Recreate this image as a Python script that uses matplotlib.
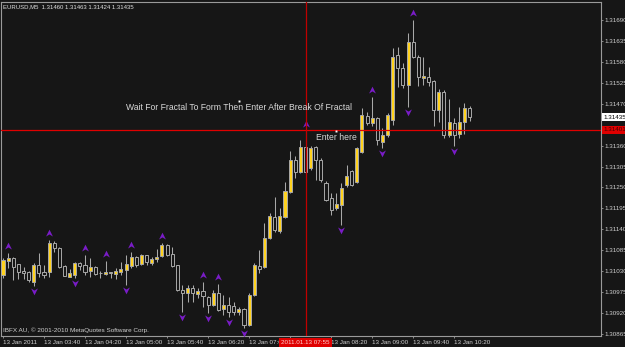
import numpy as np
import matplotlib
matplotlib.use("Agg")
import matplotlib.pyplot as plt
from matplotlib.path import Path
from matplotlib.transforms import offset_copy, blended_transform_factory

# ── Data: EURUSD M5, 13 Jan 2011, one candle per 5 minutes from 03:00 ─────────

opens = [1.31020, 1.31057, 1.31065, 1.31049, 1.31031, 1.31028, 1.31002, 1.31046, 1.31028, 1.31028,
         1.31104, 1.31091, 1.31044, 1.31015, 1.31020, 1.31052, 1.31046, 1.31031, 1.31041, 1.31025,
         1.31023, 1.31028, 1.31023, 1.31028, 1.31033, 1.31044, 1.31068, 1.31049, 1.31073, 1.31052,
         1.31062, 1.31070, 1.31099, 1.31075, 1.31046, 1.30981, 1.30973, 1.30986, 1.30970, 1.30978,
         1.30962, 1.30941, 1.30973, 1.30931, 1.30941, 1.30939, 1.30923, 1.30931, 1.30889, 1.30968,
         1.31044, 1.31041, 1.31117, 1.31172, 1.31136, 1.31172, 1.31238, 1.31322, 1.31291, 1.31356,
         1.31301, 1.31356, 1.31322, 1.31262, 1.31222, 1.31196, 1.31204, 1.31256, 1.31293, 1.31264,
         1.31343, 1.31438, 1.31419, 1.31433, 1.31369, 1.31388, 1.31427, 1.31598, 1.31564, 1.31519,
         1.31632, 1.31593, 1.31538, 1.31540, 1.31530, 1.31454, 1.31501, 1.31388, 1.31419, 1.31391,
         1.31422, 1.31460]
highs = [1.31065, 1.31078, 1.31068, 1.31049, 1.31041, 1.31031, 1.31052, 1.31078, 1.31046, 1.31112,
         1.31109, 1.31094, 1.31046, 1.31036, 1.31054, 1.31054, 1.31073, 1.31065, 1.31044, 1.31031,
         1.31057, 1.31028, 1.31038, 1.31054, 1.31073, 1.31081, 1.31070, 1.31075, 1.31073, 1.31068,
         1.31088, 1.31104, 1.31101, 1.31094, 1.31046, 1.30994, 1.30994, 1.30994, 1.30986, 1.31002,
         1.30965, 1.30981, 1.30997, 1.30968, 1.30962, 1.30949, 1.30936, 1.30934, 1.30973, 1.31052,
         1.31086, 1.31157, 1.31183, 1.31225, 1.31196, 1.31264, 1.31346, 1.31333, 1.31375, 1.31398,
         1.31359, 1.31359, 1.31327, 1.31267, 1.31235, 1.31235, 1.31262, 1.31309, 1.31296, 1.31356,
         1.31459, 1.31448, 1.31488, 1.31435, 1.31406, 1.31446, 1.31616, 1.31619, 1.31577, 1.31656,
         1.31690, 1.31598, 1.31593, 1.31567, 1.31532, 1.31509, 1.31506, 1.31482, 1.31433, 1.31461,
         1.31472, 1.31463]
lows = [1.31012, 1.31038, 1.31007, 1.31010, 1.31010, 1.31002, 1.30991, 1.31015, 1.31012, 1.31015,
        1.31080, 1.31038, 1.31017, 1.31015, 1.31012, 1.31033, 1.31020, 1.31015, 1.31020, 1.31012,
        1.31020, 1.31012, 1.31010, 1.31020, 1.30994, 1.31038, 1.31041, 1.31046, 1.31046, 1.31046,
        1.31054, 1.31068, 1.31070, 1.31041, 1.30978, 1.30923, 1.30949, 1.30949, 1.30960, 1.30936,
        1.30920, 1.30939, 1.30925, 1.30915, 1.30910, 1.30915, 1.30915, 1.30881, 1.30886, 1.30965,
        1.31025, 1.31038, 1.31115, 1.31133, 1.31130, 1.31170, 1.31235, 1.31275, 1.31288, 1.31288,
        1.31296, 1.31270, 1.31264, 1.31214, 1.31178, 1.31191, 1.31151, 1.31251, 1.31254, 1.31262,
        1.31341, 1.31414, 1.31412, 1.31362, 1.31354, 1.31383, 1.31414, 1.31514, 1.31511, 1.31461,
        1.31590, 1.31517, 1.31519, 1.31517, 1.31412, 1.31422, 1.31380, 1.31383, 1.31359, 1.31380,
        1.31391, 1.31424]
closes = [1.31059, 1.31065, 1.31041, 1.31028, 1.31025, 1.31007, 1.31046, 1.31025, 1.31020, 1.31104,
          1.31091, 1.31041, 1.31017, 1.31025, 1.31052, 1.31044, 1.31028, 1.31041, 1.31023, 1.31024,
          1.31028, 1.31025, 1.31031, 1.31036, 1.31049, 1.31068, 1.31046, 1.31073, 1.31054, 1.31062,
          1.31068, 1.31099, 1.31073, 1.31044, 1.30981, 1.30973, 1.30986, 1.30973, 1.30978, 1.30965,
          1.30941, 1.30973, 1.30928, 1.30941, 1.30923, 1.30923, 1.30931, 1.30889, 1.30968, 1.31046,
          1.31036, 1.31117, 1.31175, 1.31138, 1.31175, 1.31241, 1.31322, 1.31291, 1.31356, 1.31291,
          1.31354, 1.31322, 1.31270, 1.31217, 1.31191, 1.31207, 1.31249, 1.31280, 1.31256, 1.31354,
          1.31441, 1.31419, 1.31433, 1.31375, 1.31388, 1.31441, 1.31593, 1.31564, 1.31519, 1.31632,
          1.31593, 1.31540, 1.31543, 1.31527, 1.31454, 1.31501, 1.31388, 1.31422, 1.31388, 1.31422,
          1.31459, 1.31435]

# bar indices carrying a Bill Williams fractal arrow
up_fractals   = [1, 9, 16, 20, 25, 31, 39, 42, 59, 72, 80]
down_fractals = [6, 14, 24, 35, 40, 44, 47, 66, 74, 79, 88]

# 07:40 label sits under the vertical line's time tag, so it is left empty
time_ticks  = [0, 8, 16, 24, 32, 40, 48, 56, 64, 72, 80, 88]
time_labels = ["13 Jan 2011", "13 Jan 03:40", "13 Jan 04:20", "13 Jan 05:00",
               "13 Jan 05:40", "13 Jan 06:20", "13 Jan 07:00", "",
               "13 Jan 08:20", "13 Jan 09:00", "13 Jan 09:40", "13 Jan 10:20"]
price_ticks = [1.30865, 1.30920, 1.30975, 1.31030, 1.31085, 1.31140, 1.31195, 1.31250,
               1.31305, 1.31360, 1.31470, 1.31525, 1.31580, 1.31635, 1.31690]

line_bar   = 59          # vertical line object (07:55)
line_price = 1.31401     # horizontal line object
line_time  = "2011.01.13 07:55"
bid_price  = 1.31435

header    = "EURUSD,M5  1.31460 1.31463 1.31424 1.31435"
copyright = "IBFX AU, \u00a9 2001-2010 MetaQuotes Software Corp."
note_text, note_bar, note_price = "Wait For Fractal To Form Then Enter After Break Of Fractal", 46, 1.31476
entry_text, entry_bar, entry_price = "Enter here", 65, 1.31398

# ── Style ─────────────────────────────────────────────────────────────────────

BG      = "#161616"
GREY    = "#a8a8a8"
YELLOW  = "#ffd21f"
PURPLE  = "#7a1cc8"
RED     = "#e00000"
FONT    = "Liberation Sans"
W, H    = 625, 347

plt.rcParams["font.family"] = FONT

fig = plt.figure(figsize=(W / 100, H / 100), dpi=100, facecolor=BG)
ax = fig.add_axes([1 / W, 11 / H, 600 / W, 334 / H], facecolor=BG)

o = np.array(opens); c = np.array(closes)
hi = np.array(highs); lo = np.array(lows)
x = np.arange(len(o))
bull = c >= o

# candles
ax.vlines(x, lo, hi, color=GREY, linewidth=0.75, zorder=2)
body_lo = np.minimum(o, c)
body_h = np.abs(c - o)
ax.bar(x, body_h, bottom=body_lo, width=0.6,
       color=np.where(bull, YELLOW, BG), edgecolor=GREY, linewidth=0.7, zorder=3)

# fractal arrows (notched arrowheads)
up_path = Path([(0, 1), (0.9, -0.8), (0, -0.25), (-0.9, -0.8), (0, 1)],
               [Path.MOVETO, Path.LINETO, Path.LINETO, Path.LINETO, Path.CLOSEPOLY])
dn_path = Path([(0, -1), (0.9, 0.8), (0, 0.25), (-0.9, 0.8), (0, -1)],
               [Path.MOVETO, Path.LINETO, Path.LINETO, Path.LINETO, Path.CLOSEPOLY])
tr_up = offset_copy(ax.transData, fig=fig, y=5.0, units="points")
tr_dn = offset_copy(ax.transData, fig=fig, y=-3.6, units="points")
ax.plot(up_fractals, hi[up_fractals], linestyle="none", marker=up_path, markersize=5.5,
        color=PURPLE, markeredgewidth=0, transform=tr_up, zorder=4)
ax.plot(down_fractals, lo[down_fractals], linestyle="none", marker=dn_path, markersize=5.5,
        color=PURPLE, markeredgewidth=0, transform=tr_dn, zorder=4)

# line objects
ax.axhline(line_price, color=RED, linewidth=0.9, zorder=5)
ax.axvline(line_bar, color="#c00000", linewidth=0.9, zorder=5)

# text objects with their anchor dots
ax.plot([note_bar, entry_bar], [note_price, entry_price], linestyle="none", marker="s",
        markersize=1.4, color="white", markeredgewidth=0, zorder=6)
ax.text(note_bar, note_price, note_text, color="#d8d8d8", fontsize=6.2, ha="center", va="center",
        transform=offset_copy(ax.transData, fig=fig, y=-4.5, units="points"), zorder=6)
ax.text(entry_bar, entry_price, entry_text, color="#d8d8d8", fontsize=6.2, ha="center", va="center",
        transform=offset_copy(ax.transData, fig=fig, y=-4.6, units="points"), zorder=6)

# axes
ax.set_xlim(-0.39, 116.63)
ax.set_ylim(1.308597, 1.317373)
for side in ("top", "left", "right", "bottom"):
    ax.spines[side].set_color("#9a9a9a")
    ax.spines[side].set_linewidth(0.8)

ax.yaxis.tick_right()
ax.set_yticks(price_ticks)
ax.set_yticklabels([f"{p:.5f}" for p in price_ticks])
ax.set_xticks(time_ticks)
ax.set_xticklabels(time_labels)
ax.tick_params(axis="both", colors="#9a9a9a", labelcolor="#d0d0d0", labelsize=4.5,
               length=1.5, width=0.6, pad=1.2)
for lbl in ax.get_xticklabels():
    lbl.set_horizontalalignment("left")

# price / time tags of the line objects on the scales
ax_y = blended_transform_factory(ax.transAxes, ax.transData)
ax.text(1.004, bid_price, f"{bid_price:.5f}", transform=ax_y, fontsize=4.5, color="black",
        ha="left", va="center", clip_on=False, zorder=7,
        bbox=dict(boxstyle="square,pad=0.25", facecolor="white", edgecolor="none"))
ax.text(1.004, line_price, f"{line_price:.5f}", transform=ax_y, fontsize=4.5, color="#400000",
        ha="left", va="center", clip_on=False, zorder=7,
        bbox=dict(boxstyle="square,pad=0.25", facecolor=RED, edgecolor="none"))
ax_x = blended_transform_factory(ax.transData, ax.transAxes)
ax.text(line_bar, -0.019, line_time, transform=ax_x, fontsize=4.5, color="#ffd0d0",
        ha="center", va="center", clip_on=False, zorder=7,
        bbox=dict(boxstyle="square,pad=0.35", facecolor=RED, edgecolor="none"))

fig.text(3 / W, 1 - 7 / H, header, color="#e0e0e0", fontsize=4.3, va="center", ha="left")
fig.text(3 / W, 1 - 330.5 / H, copyright, color="#d0d0d0", fontsize=4.6, va="center", ha="left")

fig.savefig("out.png", dpi=100, facecolor=BG)
